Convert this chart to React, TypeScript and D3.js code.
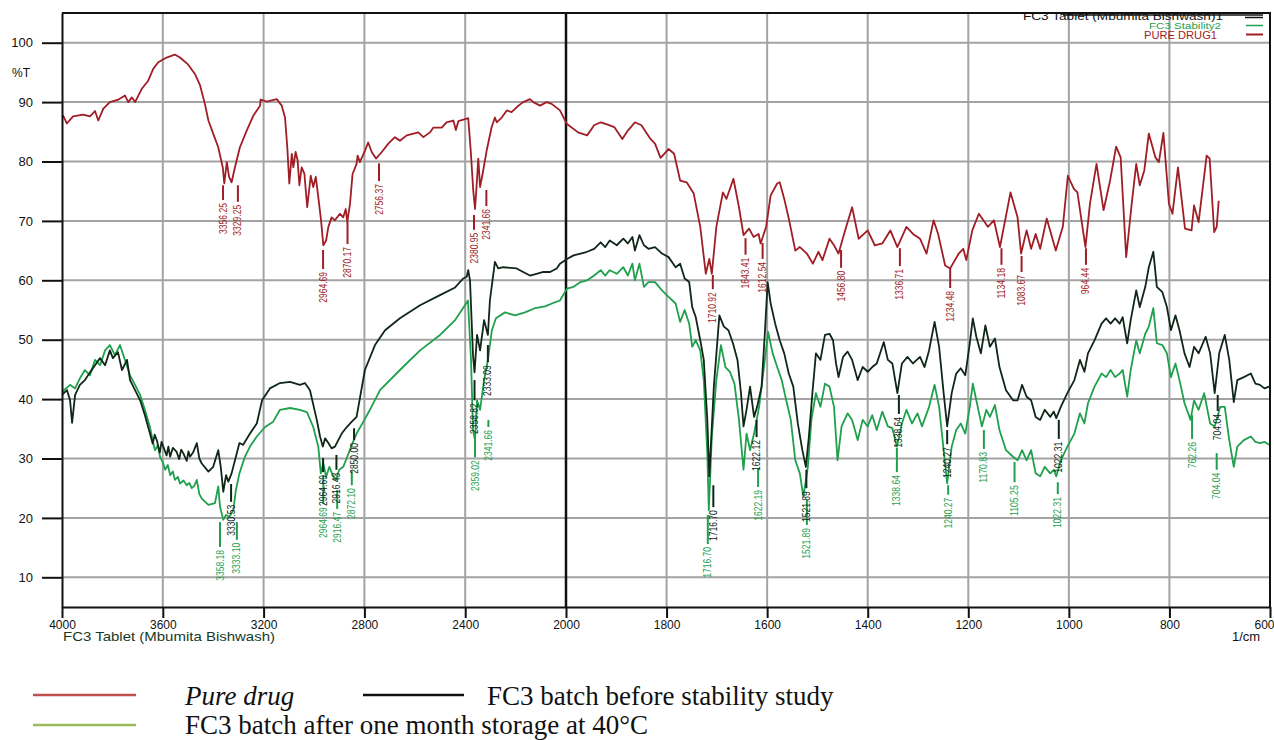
import { useEffect, useRef } from 'react';
import * as d3 from 'd3';

type Pt = [number, number];

// wavenumber (1/cm), %T
const pureDrug: Pt[] = [
  [4000, 87.5], [3995, 87.7], [3981, 86.4], [3956, 87.6], [3917, 87.9], [3889, 87.6], [3869, 88.5],
  [3856, 86.9], [3836, 88.9], [3810, 90.0], [3777, 90.4], [3750, 91.1], [3737, 90.0], [3723, 90.8],
  [3710, 90.0], [3684, 92.2], [3658, 93.6], [3638, 95.6], [3618, 96.7], [3585, 97.5], [3552, 98.0],
  [3532, 97.5], [3499, 96.3], [3472, 94.7], [3452, 92.8], [3433, 89.7], [3419, 86.9], [3400, 84.7],
  [3380, 82.4], [3362, 79.0], [3356, 76.3], [3346, 79.9], [3337, 77.4], [3327, 76.5], [3314, 79.0],
  [3294, 82.4], [3267, 85.2], [3241, 87.7], [3214, 89.4], [3212, 90.4], [3188, 90.1], [3148, 90.5],
  [3128, 89.4], [3115, 87.4], [3106, 82.4], [3098, 76.3], [3088, 81.3], [3082, 79.0], [3073, 81.6],
  [3065, 80.2], [3058, 76.0], [3049, 79.0], [3038, 77.9], [3027, 72.3], [3013, 77.6], [3003, 75.7],
  [2993, 77.4], [2983, 74.0], [2972, 70.1], [2963, 65.9], [2952, 66.7], [2943, 69.0], [2930, 70.6],
  [2917, 70.1], [2897, 71.2], [2884, 70.6], [2874, 72.0], [2868, 69.8], [2857, 72.9], [2847, 77.9],
  [2831, 79.6], [2827, 81.0], [2818, 79.9], [2798, 81.8], [2785, 83.2], [2771, 81.6], [2754, 80.5],
  [2731, 81.6], [2705, 83.0], [2679, 84.1], [2659, 83.5], [2632, 84.4], [2586, 84.9], [2566, 84.1],
  [2540, 84.9], [2527, 85.7], [2493, 85.7], [2474, 86.6], [2447, 86.9], [2437, 85.3], [2427, 86.8],
  [2394, 87.2], [2388, 87.3], [2378, 81.8], [2368, 75.1], [2361, 72.0], [2355, 75.7], [2348, 80.5],
  [2341, 75.7], [2331, 77.9], [2315, 81.8], [2295, 85.8], [2282, 87.4], [2275, 86.6], [2255, 87.4],
  [2235, 88.6], [2216, 88.3], [2189, 89.4], [2170, 90.0], [2143, 90.5], [2130, 90.0], [2103, 89.4],
  [2077, 90.0], [2057, 89.7], [2024, 88.6], [1998, 86.3], [1976, 84.9], [1958, 84.4], [1944, 86.1],
  [1931, 86.6], [1917, 86.2], [1904, 85.8], [1888, 83.8], [1877, 85.2], [1863, 86.6], [1850, 86.1],
  [1832, 83.8], [1823, 83.0], [1812, 80.6], [1796, 82.1], [1785, 81.3], [1773, 76.8], [1760, 76.5],
  [1746, 74.6], [1733, 69.0], [1722, 61.1], [1715, 63.6], [1710, 61.1], [1701, 69.0], [1688, 74.8],
  [1681, 73.7], [1667, 77.1], [1656, 72.3], [1647, 67.6], [1636, 68.7], [1627, 67.3], [1617, 67.8],
  [1613, 66.2], [1602, 69.0], [1593, 74.3], [1580, 76.3], [1575, 76.5], [1566, 73.7], [1557, 70.4],
  [1544, 65.0], [1535, 65.6], [1521, 64.5], [1509, 62.8], [1498, 64.8], [1490, 63.4], [1476, 67.0],
  [1467, 65.9], [1458, 64.5], [1445, 68.4], [1431, 72.3], [1418, 67.0], [1400, 68.4], [1386, 65.9],
  [1371, 66.2], [1355, 68.4], [1341, 65.6], [1323, 69.0], [1310, 67.8], [1296, 67.0], [1283, 64.5],
  [1269, 70.1], [1260, 67.8], [1246, 62.5], [1236, 62.0], [1219, 64.5], [1210, 65.3], [1204, 63.4],
  [1192, 68.4], [1179, 71.2], [1161, 69.0], [1149, 70.1], [1137, 65.6], [1116, 74.8], [1102, 70.6],
  [1095, 64.5], [1084, 68.4], [1075, 65.3], [1066, 67.8], [1057, 65.3], [1044, 70.4], [1026, 65.0],
  [1012, 69.0], [1002, 77.6], [990, 75.4], [983, 74.8], [967, 65.6], [958, 72.9], [945, 79.6],
  [931, 71.8], [918, 76.8], [906, 82.5], [897, 80.7], [886, 63.9], [875, 72.9], [866, 79.6],
  [859, 76.0], [850, 78.5], [841, 84.7], [828, 80.7], [821, 79.9], [812, 84.8], [801, 72.9],
  [794, 71.2], [783, 79.0], [769, 68.7], [756, 68.4], [751, 72.6], [742, 69.8], [726, 81.0],
  [720, 80.5], [711, 68.1], [706, 69.0], [702, 73.4]
];

const fc3Before: Pt[] = [
  [4000, 40.7], [3980, 41.5], [3968, 39.8], [3960, 36.0], [3948, 40.7], [3929, 42.4], [3909, 43.2],
  [3889, 44.5], [3869, 45.7], [3849, 46.9], [3829, 45.7], [3810, 48.2], [3798, 46.9], [3778, 47.9],
  [3762, 44.9], [3742, 46.6], [3730, 43.2], [3710, 41.5], [3690, 39.8], [3671, 37.3], [3651, 34.2],
  [3640, 32.5], [3632, 34.0], [3624, 33.1], [3612, 31.0], [3605, 32.8], [3598, 32.0], [3585, 30.5],
  [3578, 32.0], [3571, 30.3], [3560, 31.8], [3545, 31.1], [3535, 29.9], [3527, 31.5], [3519, 30.9],
  [3505, 29.6], [3498, 31.2], [3492, 30.3], [3480, 31.0], [3465, 32.6], [3455, 30.0],
  [3446, 29.2], [3419, 27.8], [3400, 28.6], [3380, 31.4], [3370, 28.6], [3360, 24.4], [3349, 27.2],
  [3340, 26.1], [3327, 27.5], [3310, 30.3], [3296, 32.6], [3281, 32.3], [3254, 34.2], [3227, 35.9],
  [3206, 39.8], [3175, 41.8], [3135, 42.7], [3095, 42.9], [3056, 42.4], [3036, 42.7], [3016, 41.5],
  [2989, 36.5], [2976, 33.7], [2965, 32.0], [2956, 33.4], [2943, 32.6], [2930, 31.7], [2917, 32.0],
  [2890, 34.2], [2870, 35.3], [2850, 36.2], [2831, 37.0], [2798, 44.9], [2758, 49.1], [2718, 51.6],
  [2659, 53.6], [2579, 55.8], [2500, 57.5], [2440, 58.8], [2408, 60.3], [2394, 60.6], [2388, 61.7],
  [2381, 60.0], [2369, 47.4], [2363, 44.5], [2353, 50.8], [2341, 48.2], [2325, 53.3], [2310, 50.8],
  [2302, 56.6], [2282, 63.1], [2269, 62.0], [2249, 62.2], [2196, 62.0], [2170, 61.4], [2143, 60.8],
  [2117, 61.1], [2090, 61.4], [2063, 61.4], [2037, 62.0], [2024, 62.8], [1998, 63.6], [1985, 64.2],
  [1971, 64.5], [1958, 64.8], [1944, 65.3], [1931, 66.4], [1922, 65.6], [1913, 66.7], [1899, 65.9],
  [1886, 67.0], [1877, 66.2], [1868, 67.3], [1863, 65.0], [1854, 67.6], [1845, 65.9], [1836, 65.3],
  [1823, 65.6], [1809, 64.5], [1796, 63.9], [1782, 62.2], [1773, 62.8], [1764, 60.3], [1755, 59.7],
  [1749, 55.5], [1742, 53.8], [1733, 49.9], [1726, 46.6], [1719, 36.5], [1715, 27.0], [1706, 42.1],
  [1695, 54.1], [1686, 52.2], [1677, 51.6], [1668, 49.4], [1659, 46.6], [1652, 41.0], [1647, 35.4],
  [1641, 38.2], [1634, 42.1], [1626, 37.0], [1620, 38.7], [1611, 42.1], [1605, 50.5], [1599, 59.7],
  [1593, 56.1], [1584, 52.7], [1575, 49.9], [1566, 47.7], [1557, 44.3], [1548, 42.1], [1539, 35.9],
  [1530, 31.4], [1523, 28.6], [1517, 33.7], [1510, 41.0], [1503, 47.7], [1494, 46.6], [1485, 50.8],
  [1476, 51.0], [1469, 49.9], [1463, 46.0], [1458, 43.7], [1449, 47.1], [1440, 48.0], [1431, 46.6],
  [1420, 43.2], [1410, 45.4], [1400, 44.6], [1391, 45.4], [1382, 46.0], [1368, 49.6], [1360, 46.6],
  [1351, 46.0], [1341, 41.0], [1332, 46.0], [1321, 47.1], [1310, 46.0], [1296, 47.1], [1287, 45.4],
  [1278, 48.2], [1267, 53.0], [1258, 48.8], [1249, 41.0], [1242, 35.4], [1233, 41.0], [1224, 44.3],
  [1215, 45.2], [1206, 44.0], [1197, 49.4], [1191, 53.6], [1184, 50.5], [1175, 47.7], [1166, 52.4],
  [1157, 48.8], [1147, 50.2], [1138, 45.4], [1125, 41.5], [1111, 39.8], [1102, 39.8], [1093, 42.4],
  [1084, 40.4], [1075, 39.8], [1066, 37.0], [1057, 36.5], [1048, 38.2], [1037, 37.0], [1030, 37.9],
  [1025, 36.8], [1016, 38.7], [1003, 41.0], [989, 43.2], [978, 46.6], [969, 44.6], [962, 47.7],
  [949, 49.9], [935, 52.7], [926, 53.6], [917, 52.7], [908, 53.6], [899, 52.7], [893, 53.8],
  [884, 49.4], [877, 53.3], [866, 58.3], [859, 55.5], [848, 58.9], [841, 62.2], [832, 64.8],
  [825, 58.9], [814, 58.0], [805, 55.5], [797, 51.6], [788, 54.1], [780, 51.6], [770, 47.7],
  [760, 45.4], [751, 48.8], [742, 47.7], [728, 50.5], [719, 47.7], [710, 41.0], [701, 47.7],
  [690, 50.8], [681, 46.6], [672, 39.5], [665, 43.2], [652, 43.7], [638, 44.3], [629, 42.6],
  [620, 42.4], [611, 41.8], [602, 42.1]
];

const fc3After: Pt[] = [
  [4000, 41.2], [3968, 42.4], [3948, 41.8], [3929, 43.5], [3909, 44.9], [3889, 44.0], [3869, 46.6],
  [3849, 45.7], [3829, 48.2], [3810, 49.1], [3790, 47.4], [3770, 49.1], [3750, 46.6], [3730, 44.0],
  [3710, 42.4], [3690, 40.7], [3671, 38.2], [3651, 35.3], [3640, 33.0], [3631, 31.4], [3620, 32.2],
  [3611, 30.3], [3600, 29.4], [3591, 28.1], [3580, 28.9], [3571, 27.2], [3560, 27.8], [3552, 26.4],
  [3540, 26.9], [3532, 25.8], [3518, 26.3], [3505, 25.5], [3495, 25.9], [3485, 25.0], [3475, 25.4],
  [3465, 26.4], [3455, 24.0], [3446, 23.3],
  [3419, 22.2], [3393, 22.5], [3380, 25.3], [3373, 21.9], [3360, 19.7], [3349, 20.5], [3336, 20.2],
  [3320, 21.3], [3310, 24.7], [3296, 27.5], [3274, 30.3], [3254, 32.0], [3227, 33.7], [3194, 35.3],
  [3162, 36.2], [3135, 38.2], [3095, 38.5], [3056, 38.2], [3028, 37.8], [3003, 35.3], [2983, 32.0],
  [2973, 27.5], [2963, 29.2], [2952, 26.9], [2939, 28.6], [2926, 27.2], [2913, 26.4], [2900, 28.1],
  [2884, 28.6], [2868, 30.3], [2850, 32.3], [2831, 34.2], [2804, 36.2], [2778, 38.2], [2738, 41.5],
  [2659, 44.9], [2579, 48.2], [2500, 50.8], [2440, 53.3], [2401, 55.8], [2389, 56.6], [2377, 46.6],
  [2369, 34.8], [2361, 33.1], [2353, 39.8], [2341, 38.2], [2325, 43.2], [2310, 46.6], [2294, 51.6],
  [2278, 53.6], [2242, 54.6], [2202, 54.1], [2163, 54.6], [2123, 55.3], [2083, 55.6], [2044, 56.3],
  [2024, 56.6], [1998, 58.6], [1985, 58.9], [1971, 59.7], [1958, 60.0], [1944, 60.8], [1931, 61.7],
  [1922, 60.8], [1913, 61.7], [1899, 61.1], [1886, 62.2], [1877, 60.8], [1868, 62.8], [1863, 60.0],
  [1854, 62.8], [1845, 58.9], [1836, 59.7], [1823, 59.7], [1809, 58.3], [1796, 57.2], [1782, 56.1],
  [1773, 53.0], [1764, 55.0], [1755, 52.7], [1749, 48.8], [1742, 49.9], [1733, 48.2], [1726, 43.2],
  [1719, 30.9], [1716, 21.3], [1710, 33.7], [1701, 43.2], [1692, 49.1], [1683, 45.4], [1674, 44.6],
  [1665, 42.6], [1656, 36.5], [1647, 28.1], [1641, 34.2], [1634, 31.4], [1626, 34.2], [1616, 38.7],
  [1607, 44.9], [1598, 51.3], [1589, 47.7], [1580, 45.4], [1571, 43.2], [1562, 39.8], [1553, 36.5],
  [1544, 29.7], [1535, 27.5], [1528, 23.6], [1519, 28.6], [1512, 36.5], [1503, 41.0], [1494, 38.7],
  [1485, 42.6], [1476, 42.1], [1467, 38.7], [1460, 29.7], [1452, 35.4], [1440, 37.6], [1431, 36.5],
  [1420, 33.1], [1410, 36.5], [1400, 35.4], [1391, 37.3], [1382, 34.8], [1371, 37.9], [1360, 35.4],
  [1351, 35.1], [1342, 32.0], [1332, 35.9], [1323, 38.2], [1312, 35.9], [1301, 37.6], [1292, 35.4],
  [1278, 38.7], [1267, 42.4], [1258, 38.7], [1249, 31.4], [1242, 25.8], [1233, 32.0], [1224, 34.8],
  [1215, 35.9], [1206, 34.2], [1197, 38.7], [1191, 42.6], [1184, 39.8], [1173, 35.4], [1164, 38.2],
  [1157, 37.0], [1147, 39.0], [1138, 34.8], [1125, 31.4], [1111, 30.3], [1102, 29.7], [1093, 31.4],
  [1084, 29.7], [1075, 31.4], [1066, 27.5], [1057, 27.0], [1048, 28.6], [1037, 27.5], [1030, 28.1],
  [1025, 27.0], [1016, 29.7], [1003, 32.0], [989, 34.2], [978, 37.6], [969, 35.9], [962, 39.3],
  [949, 42.1], [935, 44.3], [926, 43.7], [917, 44.9], [908, 43.7], [899, 44.3], [893, 44.9],
  [884, 40.4], [877, 44.9], [866, 49.9], [859, 47.7], [848, 51.0], [841, 52.2], [832, 55.3],
  [825, 49.4], [814, 49.1], [805, 47.7], [797, 43.7], [788, 46.0], [780, 43.2], [770, 39.3],
  [758, 36.5], [751, 39.8], [742, 38.2], [731, 41.0], [719, 35.9], [710, 35.4], [699, 38.7],
  [690, 38.7], [681, 33.1], [672, 28.6], [665, 32.0], [652, 33.1], [638, 33.7], [629, 32.8],
  [620, 32.6], [611, 32.8], [602, 32.3]
];

// peak labels: text, position (1/cm), tick start %T, label top %T
type Peak = [string, number, number, number];
const pureDrugPeaks: Peak[] = [
  ['3356.25', 3361, 76.0, 73.0], ['3329.25', 3302, 76.0, 72.7], ['2964.69', 2964, 65.1, 61.4],
  ['2870.17', 2867, 69.8, 65.6], ['2756.37', 2742, 79.7, 76.2], ['2380.95', 2365, 71.0, 68.0],
  ['2341.66', 2316, 75.2, 72.0], ['1710.92', 1708, 60.9, 58.0], ['1643.41', 1643, 67.1, 63.8],
  ['1612.54', 1609, 66.3, 63.1], ['1456.80', 1453, 65.1, 61.6], ['1336.71', 1336, 65.4, 61.9],
  ['1234.48', 1236, 62.1, 58.2], ['1134.18', 1134, 65.4, 62.1], ['1083.67', 1094, 64.1, 60.9],
  ['964.44', 966, 65.4, 62.1]
];
const beforePeaks: Peak[] = [
  ['3330.53', 3329, 25.7, 22.2], ['2964.69', 2964, 30.1, 27.2], ['2916.43', 2911, 30.6, 27.6],
  ['2850.00', 2841, 35.1, 32.6], ['2358.82', 2363, 43.2, 39.3], ['2333.09', 2310, 49.1, 45.7],
  ['1716.70', 1707, 25.5, 21.3], ['1622.12', 1621, 36.5, 33.1], ['1521.89', 1522, 28.1, 24.5],
  ['1338.64', 1338, 40.7, 37.0], ['1240.27', 1242, 34.8, 31.9], ['1022.31', 1020, 36.5, 32.8],
  ['704.04', 704, 40.7, 37.5]
];
const afterPeaks: Peak[] = [
  ['3358.18', 3373, 19.3, 14.6], ['3333.10', 3306, 19.3, 15.8], ['2964.69', 2963, 27.2, 21.8],
  ['2916.47', 2908, 24.7, 21.0], ['2872.10', 2850, 28.0, 25.0], ['2359.02', 2361, 33.1, 29.7],
  ['2341.66', 2308, 36.5, 34.8], ['1716.70', 1718, 20.5, 15.1], ['1622.19', 1618, 28.4, 24.7],
  ['1521.89', 1521, 23.0, 18.3], ['1338.64', 1342, 31.8, 27.2], ['1240.27', 1240, 25.5, 23.4],
  ['1170.83', 1169, 34.8, 31.1], ['1105.25', 1108, 29.4, 25.5], ['1022.31', 1022, 26.0, 23.5],
  ['762.26', 755, 37.3, 32.8], ['704.04', 706, 30.9, 27.6]
];

const xMajorTicks = [4000, 3600, 3200, 2800, 2400, 2000, 1800, 1600, 1400, 1200, 1000, 800, 600];
const yMajorTicks = [10, 20, 30, 40, 50, 60, 70, 80, 90, 100];

const RED = '#a01d26';
const DARK = '#0f2618';
const GREEN = '#1fa04d';

export default function App() {
  const svgRef = useRef<SVGSVGElement>(null);

  useEffect(() => {
    if (!svgRef.current) return;
    const svg = d3.select(svgRef.current);
    svg.selectAll('*').remove();

    const left = 62;
    const right = 1270;
    const top = 13;
    const bottom = 607;

    // two-segment wavenumber axis (4000-2000 compressed)
    const x = d3.scaleLinear().domain([4000, 2000, 600]).range([left, 566, right]);
    const y = d3.scaleLinear().domain([5, 105]).range([bottom, top]);

    const font = 'Liberation Sans, Arial, sans-serif';

    // grid
    const grid = svg.append('g');
    grid
      .selectAll('line.h')
      .data(yMajorTicks)
      .enter()
      .append('line')
      .attr('x1', left)
      .attr('x2', right)
      .attr('y1', (d) => y(d))
      .attr('y2', (d) => y(d))
      .attr('stroke', '#a3a3a3')
      .attr('stroke-width', 2);
    grid
      .selectAll('line.v')
      .data(xMajorTicks.filter((d) => d !== 4000 && d !== 600))
      .enter()
      .append('line')
      .attr('x1', (d) => x(d))
      .attr('x2', (d) => x(d))
      .attr('y1', top)
      .attr('y2', bottom)
      .attr('stroke', (d) => (d === 2000 ? '#111' : '#a3a3a3'))
      .attr('stroke-width', (d) => (d === 2000 ? 2.5 : 2));

    // spectra
    const line = d3
      .line<Pt>()
      .x((d) => x(d[0]))
      .y((d) => y(d[1]));
    const series: [Pt[], string][] = [
      [pureDrug, RED],
      [fc3After, GREEN],
      [fc3Before, DARK]
    ];
    series.forEach(([data, color]) => {
      svg
        .append('path')
        .datum(data)
        .attr('d', line)
        .attr('fill', 'none')
        .attr('stroke', color)
        .attr('stroke-width', 1.8)
        .attr('stroke-linejoin', 'round');
    });

    // peak labels
    const peakSets: [Peak[], string][] = [
      [pureDrugPeaks, RED],
      [afterPeaks, GREEN],
      [beforePeaks, DARK]
    ];
    peakSets.forEach(([peaks, color]) => {
      const g = svg.append('g');
      peaks.forEach(([label, wn, t1, t2]) => {
        g.append('line')
          .attr('x1', x(wn))
          .attr('x2', x(wn))
          .attr('y1', y(t1))
          .attr('y2', y(t2) - 3)
          .attr('stroke', color)
          .attr('stroke-width', 2);
        g.append('text')
          .attr('transform', `translate(${x(wn)},${y(t2)}) rotate(-90)`)
          .attr('text-anchor', 'end')
          .attr('dy', '0.35em')
          .attr('textLength', label.length * 4.4)
          .attr('lengthAdjust', 'spacingAndGlyphs')
          .style('font-family', font)
          .style('font-size', '10px')
          .attr('fill', color)
          .text(label);
      });
    });

    // axes
    const xAxis = svg.append('g').attr('transform', `translate(0,${bottom})`);
    xAxis.call(
      d3
        .axisBottom(x)
        .tickValues([...d3.range(4000, 2000, -80), ...d3.range(2000, 599, -40)])
        .tickSize(6)
        .tickSizeOuter(0)
        .tickFormat(() => '')
    );
    xAxis.call(
      d3.axisBottom(x).tickValues(xMajorTicks).tickSize(11).tickSizeOuter(0).tickPadding(2).tickFormat(d3.format('d'))
    );
    xAxis.selectAll('path,line').attr('stroke', '#111').attr('stroke-width', 2);
    xAxis.selectAll('text').style('font-family', font).style('font-size', '12px').attr('fill', '#111');
    // last label sits at the page edge: keep it inside
    xAxis
      .selectAll<SVGTextElement, number>('.tick text')
      .filter((d) => d === 600)
      .attr('text-anchor', 'end')
      .attr('x', 4);

    const yAxis = svg.append('g').attr('transform', `translate(${left},0)`);
    yAxis.call(
      d3
        .axisLeft(y)
        .tickValues(d3.range(6, 105, 2))
        .tickSize(10)
        .tickSizeOuter(0)
        .tickFormat(() => '')
    );
    yAxis.call(d3.axisLeft(y).tickValues(yMajorTicks).tickSize(20).tickSizeOuter(0).tickPadding(9));
    yAxis.selectAll('path,line').attr('stroke', '#111').attr('stroke-width', 2);
    yAxis.selectAll('text').style('font-family', font).style('font-size', '13px').attr('fill', '#111');

    // frame top / right
    svg
      .append('path')
      .attr('d', `M${left},${top}H${right}V${bottom}`)
      .attr('fill', 'none')
      .attr('stroke', '#111')
      .attr('stroke-width', 2);

    svg
      .append('text')
      .attr('x', 12)
      .attr('y', 77)
      .style('font-family', font)
      .style('font-size', '12px')
      .attr('fill', '#111')
      .text('%T');

    svg
      .append('text')
      .attr('x', 63)
      .attr('y', 641)
      .attr('textLength', 212)
      .attr('lengthAdjust', 'spacingAndGlyphs')
      .style('font-family', font)
      .style('font-size', '13px')
      .attr('fill', '#173a27')
      .text('FC3 Tablet (Mbumita Bishwash)');

    svg
      .append('text')
      .attr('x', 1232)
      .attr('y', 641)
      .style('font-family', font)
      .style('font-size', '13px')
      .attr('fill', '#111')
      .text('1/cm');

    // top-right legend
    const topLegend: [string, string, number, number, number, number][] = [
      ['FC3 Tablet (Mbumita Bishwash)1', '#111', 1023, 20, 200, 10.5],
      ['FC3 Stability2', GREEN, 1149, 29, 72, 8.5],
      ['PURE DRUG1', RED, 1144, 39, 73, 10.5]
    ];
    topLegend.forEach(([label, color, tx, ty, len, fs]) => {
      svg
        .append('text')
        .attr('x', tx)
        .attr('y', ty)
        .attr('textLength', len)
        .attr('lengthAdjust', 'spacingAndGlyphs')
        .style('font-family', font)
        .style('font-size', `${fs}px`)
        .attr('fill', color)
        .text(label);
    });
    svg.append('line').attr('x1', 1063).attr('x2', 1263).attr('y1', 15).attr('y2', 15).attr('stroke', '#111').attr('stroke-width', 1.5);
    svg.append('line').attr('x1', 1245).attr('x2', 1263).attr('y1', 17.5).attr('y2', 17.5).attr('stroke', '#111').attr('stroke-width', 1.5);
    svg.append('line').attr('x1', 1246).attr('x2', 1263).attr('y1', 25.5).attr('y2', 25.5).attr('stroke', GREEN).attr('stroke-width', 1.5);
    svg.append('line').attr('x1', 1246).attr('x2', 1263).attr('y1', 34.5).attr('y2', 34.5).attr('stroke', RED).attr('stroke-width', 2);

    // bottom legend
    const serif = 'Liberation Serif, Times New Roman, serif';
    const legend = svg.append('g');
    legend.append('line').attr('x1', 33).attr('x2', 136).attr('y1', 695).attr('y2', 695).attr('stroke', '#c0504d').attr('stroke-width', 2.5);
    legend.append('line').attr('x1', 363).attr('x2', 464).attr('y1', 695).attr('y2', 695).attr('stroke', '#111').attr('stroke-width', 2.5);
    legend.append('line').attr('x1', 33).attr('x2', 136).attr('y1', 725).attr('y2', 725).attr('stroke', '#9bbb59').attr('stroke-width', 2.5);
    legend
      .append('text')
      .attr('x', 185)
      .attr('y', 705)
      .style('font-family', serif)
      .style('font-size', '27px')
      .style('font-style', 'italic')
      .attr('fill', '#111')
      .text('Pure drug');
    legend
      .append('text')
      .attr('x', 487)
      .attr('y', 705)
      .style('font-family', serif)
      .style('font-size', '27px')
      .attr('fill', '#111')
      .text('FC3 batch before stability study');
    legend
      .append('text')
      .attr('x', 185)
      .attr('y', 734)
      .style('font-family', serif)
      .style('font-size', '27px')
      .attr('fill', '#111')
      .text('FC3 batch after one month storage at 40°C');
  }, []);

  return (
    <svg
      ref={svgRef}
      width={1274}
      height={740}
      style={{ position: 'absolute', left: 0, top: 0, background: '#fff' }}
    ></svg>
  );
}
